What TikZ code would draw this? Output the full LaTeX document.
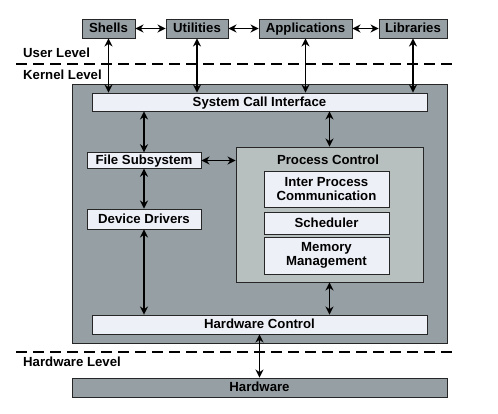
\documentclass[tikz,border=0pt]{standalone}
\usepackage{fontspec}
\setmainfont{Liberation Sans}
\usetikzlibrary{arrows.meta,calc}
\definecolor{outergray}{HTML}{969FA3}
\definecolor{pcgray}{HTML}{B8BFBF}
\definecolor{lightbox}{HTML}{EEF0F8}
\tikzset{
  txt/.style={font=\fontsize{13.2}{14.5}\selectfont\bfseries},
  base/.style={txt, draw=black!85, line width=0.9pt, inner sep=0pt, align=center},
  oneline/.style={text height=9.5pt, text depth=0.6pt},
  graybox/.style={base, fill=outergray},
  litebox/.style={base, fill=lightbox},
  pcbox/.style={base, fill=pcgray},
  conn/.style={line width=1.5pt, {Stealth[length=8pt,width=8pt]}-{Stealth[length=8pt,width=8pt]}},
  lvl/.style={txt, anchor=west, inner sep=0pt},
  sep/.style={line width=1.8pt, dash pattern=on 11pt off 6pt}
}
\begin{document}
\begin{tikzpicture}[x=1pt,y=-1pt]
\useasboundingbox (0,0) rectangle (498,414);
% top user boxes
\node[graybox, oneline, minimum width=53pt, minimum height=19pt] (shells) at (108.5,28.5) {Shells};
\node[graybox, oneline, minimum width=62pt, minimum height=19pt] (util) at (197,28.5) {Utilities};
\node[graybox, oneline, minimum width=93pt, minimum height=19pt] (apps) at (305.5,28.5) {Applications};
\node[graybox, oneline, minimum width=68pt, minimum height=19pt] (libs) at (413,28.5) {Libraries};
% level labels and separators
\node[lvl] (ul) at (23,53) {User Level};
\node[lvl] (kl) at (23,75) {Kernel Level};
\node[lvl] (hl) at (23,362) {Hardware Level};
\coordinate (d1a) at (16,64);
\coordinate (d1b) at (452,64);
\coordinate (d2a) at (16,352);
\coordinate (d2b) at (452,352);
\draw[sep] (d1a) -- (d1b);
\draw[sep] (d2a) -- (d2b);
% kernel
\node[graybox, minimum width=375pt, minimum height=259pt] (kernel) at (259.5,213.5) {};
\node[litebox, oneline, minimum width=335pt, minimum height=18pt] (sci) at (259.5,102) {System Call Interface};
\node[litebox, oneline, minimum width=114pt, minimum height=15.5pt] (fs) at (144,160.5) {File Subsystem};
\node[litebox, oneline, minimum width=114pt, minimum height=20pt] (dd) at (144,219) {Device Drivers};
\node[pcbox, minimum width=187pt, minimum height=135pt] (pc) at (329.5,214.5) {};
\node[txt, oneline, inner sep=0pt] (pcl) at (328,160) {Process Control};
\node[litebox, minimum width=125pt, minimum height=36pt] (ipc) at (326.5,189) {Inter Process\\Communication};
\node[litebox, oneline, minimum width=125pt, minimum height=22pt] (sched) at (326.5,223) {Scheduler};
\node[litebox, minimum width=125pt, minimum height=37pt] (mem) at (326.5,255.5) {Memory\\Management};
\node[litebox, oneline, minimum width=335pt, minimum height=19pt] (hc) at (259.5,324.5) {Hardware Control};
\node[graybox, oneline, minimum width=375pt, minimum height=19pt] (hw) at (259.5,387.5) {Hardware};
% connectors
\draw[conn] (shells.east) -- (util.west);
\draw[conn] (util.east) -- (apps.west);
\draw[conn] (apps.east) -- (libs.west);
\draw[conn] (shells.south) -- (shells.south |- sci.north);
\draw[conn] (util.south) -- (util.south |- sci.north);
\draw[conn] (apps.south) -- (apps.south |- sci.north);
\draw[conn] (libs.south) -- (libs.south |- sci.north);
\draw[conn] (fs.north |- sci.south) -- (fs.north);
\draw[conn] (pc.north |- sci.south) -- (pc.north);
\draw[conn] (fs.east) -- (fs.east -| pc.west);
\draw[conn] (fs.south) -- (dd.north);
\draw[conn] (dd.south) -- (dd.south |- hc.north);
\draw[conn] (pc.south) -- (pc.south |- hc.north);
\draw[conn] (hc.south) -- (hw.north);
\end{tikzpicture}
\end{document}
